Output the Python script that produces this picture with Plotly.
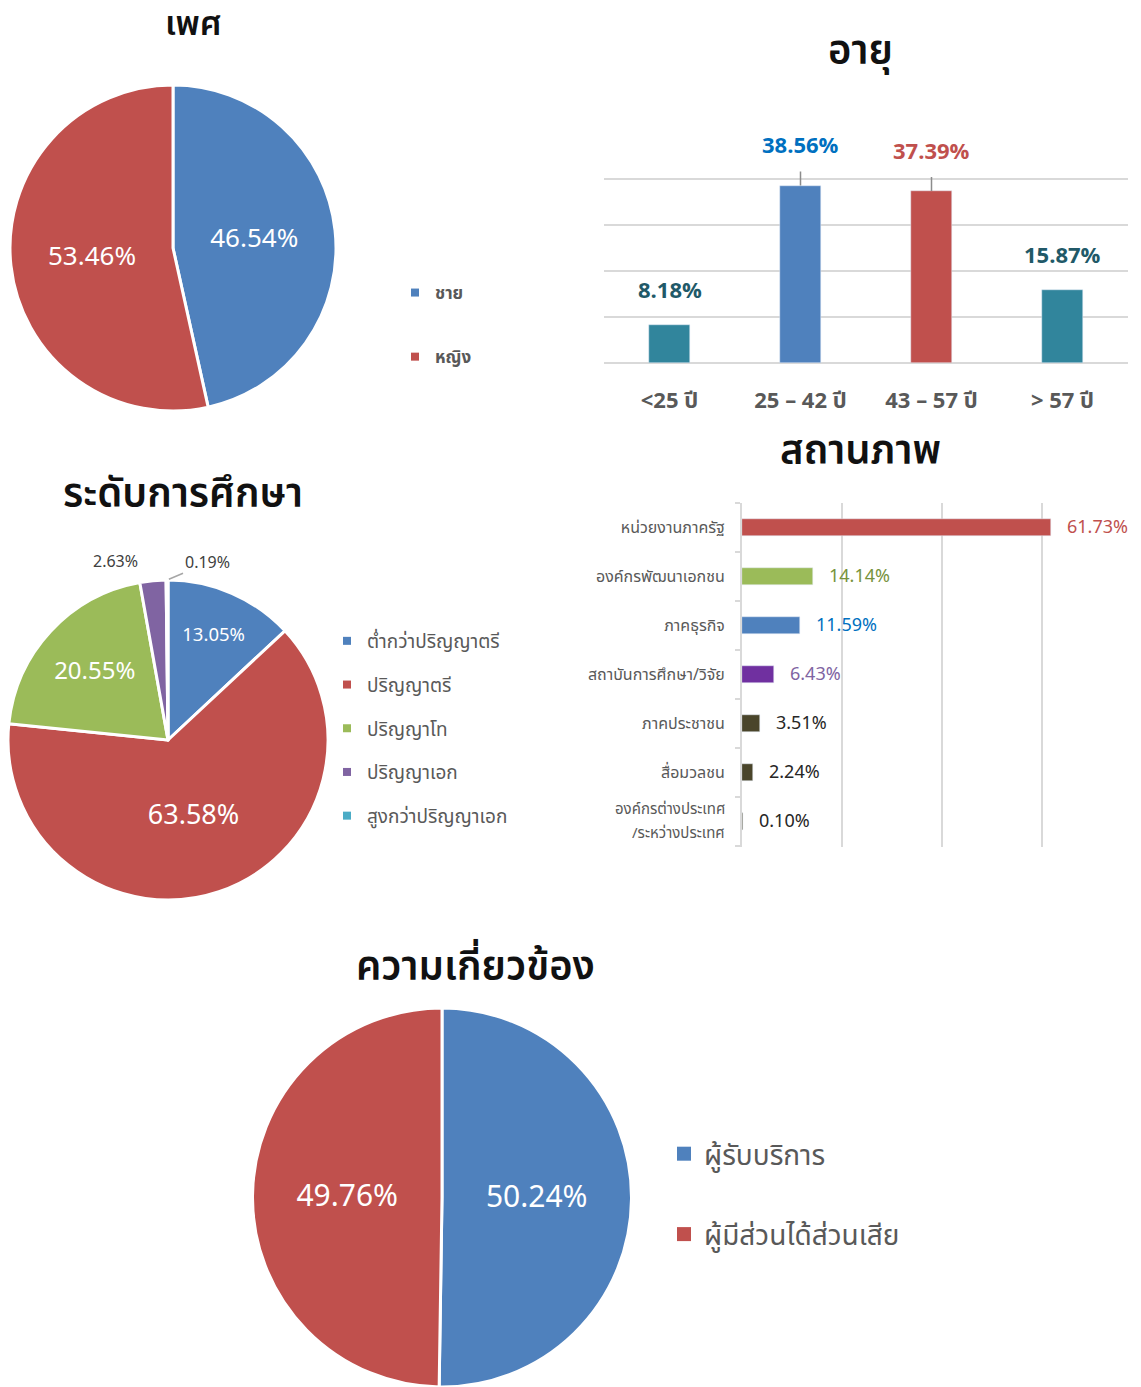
import math
import plotly.graph_objects as go

W, H = 1141, 1387
FONT = "Noto Sans Thai, Noto Sans, sans-serif"

gender_labels = ["ชาย", "หญิง"]
gender_values = [46.54, 53.46]
gender_colors = ["#4f81bd", "#c0504d"]

age_cats = ["<25 ปี", "25 – 42 ปี", "43 – 57 ปี", "> 57 ปี"]
age_values = [8.18, 38.56, 37.39, 15.87]
age_colors = ["#31859c", "#4f81bd", "#c0504d", "#31859c"]
age_label_colors = ["#215968", "#0070c0", "#c0504d", "#215968"]
age_leader = [False, True, True, False]

edu_labels = ["ต่ำกว่าปริญญาตรี", "ปริญญาตรี", "ปริญญาโท", "ปริญญาเอก", "สูงกว่าปริญญาเอก"]
edu_values = [13.05, 63.58, 20.55, 2.63, 0.19]
edu_colors = ["#4f81bd", "#c0504d", "#9bbb59", "#8064a2", "#4bacc6"]

status_cats = ["หน่วยงานภาครัฐ", "องค์กรพัฒนาเอกชน", "ภาคธุรกิจ", "สถาบันการศึกษา/วิจัย",
               "ภาคประชาชน", "สื่อมวลชน", "องค์กรต่างประเทศ<br>/ระหว่างประเทศ"]
status_values = [61.73, 14.14, 11.59, 6.43, 3.51, 2.24, 0.10]
status_colors = ["#c0504d", "#9bbb59", "#4f81bd", "#7030a0", "#4a452a", "#4a452a", "#4a452a"]
status_label_colors = ["#c0504d", "#77933c", "#0070c0", "#8064a2", "#262626", "#262626", "#262626"]

rel_labels = ["ผู้รับบริการ", "ผู้มีส่วนได้ส่วนเสีย"]
rel_values = [50.24, 49.76]
rel_colors = ["#4f81bd", "#c0504d"]

titles = ["เพศ", "อายุ", "ระดับการศึกษา", "สถานภาพ", "ความเกี่ยวข้อง"]


def px(x):
    return x / W


def py(y):
    return 1 - y / H


fig = go.Figure()

# ---- gender pie
fig.add_trace(go.Pie(
    labels=gender_labels, values=gender_values, sort=False, direction="clockwise",
    marker=dict(colors=gender_colors, line=dict(color="white", width=3)),
    texttemplate="%{value:.2f}%", textposition="inside", insidetextorientation="horizontal",
    textfont=dict(size=26, color="white", family=FONT),
    domain=dict(x=[px(10), px(336)], y=[py(411), py(85)]), showlegend=False, hoverinfo="label+value"))

# ---- education pie
edu_text = ["%.2f%%" % v if v > 5 else "" for v in edu_values]
ED_CX, ED_CY, ED_R = 168, 740, 160
fig.add_trace(go.Pie(
    labels=edu_labels, values=edu_values, sort=False, direction="clockwise",
    marker=dict(colors=edu_colors, line=dict(color="white", width=3)),
    text=edu_text, texttemplate="%{text}", textposition="inside", insidetextorientation="horizontal",
    textfont=dict(size=[18.5, 27, 24, 16, 16], color="white", family=FONT),
    domain=dict(x=[px(ED_CX - ED_R), px(ED_CX + ED_R)], y=[py(ED_CY + ED_R), py(ED_CY - ED_R)]),
    showlegend=False, hoverinfo="label+value"))

# ---- relevance pie
fig.add_trace(go.Pie(
    labels=rel_labels, values=rel_values, sort=False, direction="clockwise",
    marker=dict(colors=rel_colors, line=dict(color="white", width=3)),
    texttemplate="%{value:.2f}%", textposition="inside", insidetextorientation="horizontal",
    textfont=dict(size=30, color="white", family=FONT),
    domain=dict(x=[px(252), px(632)], y=[0, py(1008)]), showlegend=False, hoverinfo="label+value"))

# ---- age bars
fig.add_trace(go.Bar(
    x=age_cats, y=age_values, marker=dict(color=age_colors), width=0.32,
    xaxis="x", yaxis="y", showlegend=False, hoverinfo="x+y"))

# ---- status bars
fig.add_trace(go.Bar(
    y=status_cats, x=status_values, orientation="h", marker=dict(color=status_colors), width=0.35,
    xaxis="x2", yaxis="y2", showlegend=False, hoverinfo="x+y"))

# ---- legend entries (dummy traces, no data drawn)
for lab, col in zip(gender_labels, gender_colors):
    fig.add_trace(go.Scatter(x=[None], y=[None], mode="markers", name=lab, legendgroup="g" + lab,
                             marker=dict(symbol="square", size=8, color=col), legend="legend",
                             xaxis="x", yaxis="y"))
for lab, col in zip(edu_labels, edu_colors):
    fig.add_trace(go.Scatter(x=[None], y=[None], mode="markers", name=lab, legendgroup="e" + lab,
                             marker=dict(symbol="square", size=8, color=col), legend="legend2",
                             xaxis="x", yaxis="y"))
for lab, col in zip(rel_labels, rel_colors):
    fig.add_trace(go.Scatter(x=[None], y=[None], mode="markers", name=lab, legendgroup="r" + lab,
                             marker=dict(symbol="square", size=14, color=col), legend="legend3",
                             xaxis="x", yaxis="y"))

annotations = []
# age value labels
for c, v, col, lead in zip(age_cats, age_values, age_label_colors, age_leader):
    if lead:
        annotations.append(dict(x=c, y=v, xref="x", yref="y", text="<b>%.2f%%</b>" % v,
                                showarrow=True, arrowhead=0, arrowwidth=1.5, arrowcolor="#8c8c8c",
                                ax=0, ay=-39, startstandoff=7,
                                font=dict(size=22, color=col, family=FONT)))
    else:
        annotations.append(dict(x=c, y=v, xref="x", yref="y", text="<b>%.2f%%</b>" % v,
                                showarrow=False, yanchor="bottom", yshift=15,
                                font=dict(size=22, color=col, family=FONT)))
# status value labels
for c, v, col in zip(status_cats, status_values, status_label_colors):
    annotations.append(dict(x=v, y=c, xref="x2", yref="y2", text="%.2f%%" % v, showarrow=False,
                            xanchor="left", xshift=14, font=dict(size=18, color=col, family=FONT)))

# status category labels: single-line ones as tick labels, two-line one with wider line spacing
tick_text = [c if "<br>" not in c else "" for c in status_cats]
for c in status_cats:
    if "<br>" in c:
        parts = c.split("<br>")
        n = len(parts)
        for i, part in enumerate(parts):
            annotations.append(dict(x=0, y=c, xref="x2", yref="y2", text=part, showarrow=False,
                                    xanchor="right", xshift=-15, yshift=(n - 1) * 12 - i * 24,
                                    font=dict(size=15, color="#595959", family=FONT)))

# small education slice labels
cum = sum(edu_values[:3])
ang_purple = (cum + edu_values[3] / 2) / sum(edu_values) * 2 * math.pi
ang_cyan = (cum + edu_values[3] + edu_values[4] / 2) / sum(edu_values) * 2 * math.pi
annotations.append(dict(x=px(ED_CX + ED_R * math.sin(ang_purple)), y=py(ED_CY - ED_R * math.cos(ang_purple)),
                        xref="paper", yref="paper", text="%.2f%%" % edu_values[3], showarrow=False,
                        xshift=-62, yshift=19, font=dict(size=16, color="#404040", family=FONT)))
annotations.append(dict(x=px(ED_CX + ED_R * math.sin(ang_cyan)), y=py(ED_CY - ED_R * math.cos(ang_cyan)),
                        xref="paper", yref="paper", text="%.2f%%" % edu_values[4], showarrow=True,
                        arrowhead=0, arrowwidth=1.5, arrowcolor="#a6a6a6", ax=40, ay=-17,
                        standoff=2, xanchor="center",
                        font=dict(size=16, color="#404040", family=FONT)))

# titles
title_pos = [(193, 25), (860, 52), (183, 495), (860, 452), (475, 968)]
title_size = [34, 40, 40, 40, 40]
for t, (tx, ty), ts in zip(titles, title_pos, title_size):
    annotations.append(dict(x=px(tx), y=py(ty), xref="paper", yref="paper", text=t, showarrow=False,
                            xanchor="center", yanchor="middle",
                            font=dict(size=ts, color="#111111", family=FONT, weight=600)))

fig.update_layout(
    width=W, height=H, margin=dict(l=0, r=0, t=0, b=0),
    paper_bgcolor="white", plot_bgcolor="white",
    font=dict(family=FONT, color="#595959"),
    annotations=annotations,
    bargap=0,
    xaxis=dict(domain=[px(604), px(1128)], showgrid=False, zeroline=False, showline=False,
               ticks="", ticklabelstandoff=22,
               tickfont=dict(size=22, color="#595959", family=FONT, weight="bold"), fixedrange=True),
    yaxis=dict(domain=[py(363), py(133)], range=[0, 50], dtick=10, showticklabels=False,
               gridcolor="#d9d9d9", gridwidth=2, zeroline=True, zerolinecolor="#d9d9d9",
               zerolinewidth=2, showline=False),
    xaxis2=dict(domain=[px(742), px(1092)], range=[0, 70], dtick=20, showticklabels=False,
                gridcolor="#d9d9d9", gridwidth=2, zeroline=False, showline=False, anchor="y2"),
    yaxis2=dict(domain=[py(847), py(503)], autorange="reversed", anchor="x2",
                tickmode="array", tickvals=status_cats, ticktext=tick_text,
                showline=True, linecolor="#d9d9d9", linewidth=2, ticks="outside", tickson="boundaries",
                ticklen=5, tickcolor="#d9d9d9", tickwidth=2, ticklabelstandoff=12,
                tickfont=dict(size=16, color="#595959", family=FONT)),
    legend=dict(x=px(395), y=py(275), xanchor="left", yanchor="top", tracegroupgap=39,
                font=dict(size=17, color="#595959", family=FONT, weight="bold"),
                bgcolor="rgba(0,0,0,0)", itemclick=False),
    legend2=dict(x=px(327), y=py(622), xanchor="left", yanchor="top", tracegroupgap=16,
                 font=dict(size=19, color="#595959", family=FONT),
                 bgcolor="rgba(0,0,0,0)", itemclick=False),
    legend3=dict(x=px(664), y=py(1129), xanchor="left", yanchor="top", tracegroupgap=41,
                 font=dict(size=28, color="#595959", family=FONT),
                 bgcolor="rgba(0,0,0,0)", itemclick=False),
)

fig.write_html("out.html", config={"displayModeBar": False},
               post_script="document.body.style.margin='0';")
